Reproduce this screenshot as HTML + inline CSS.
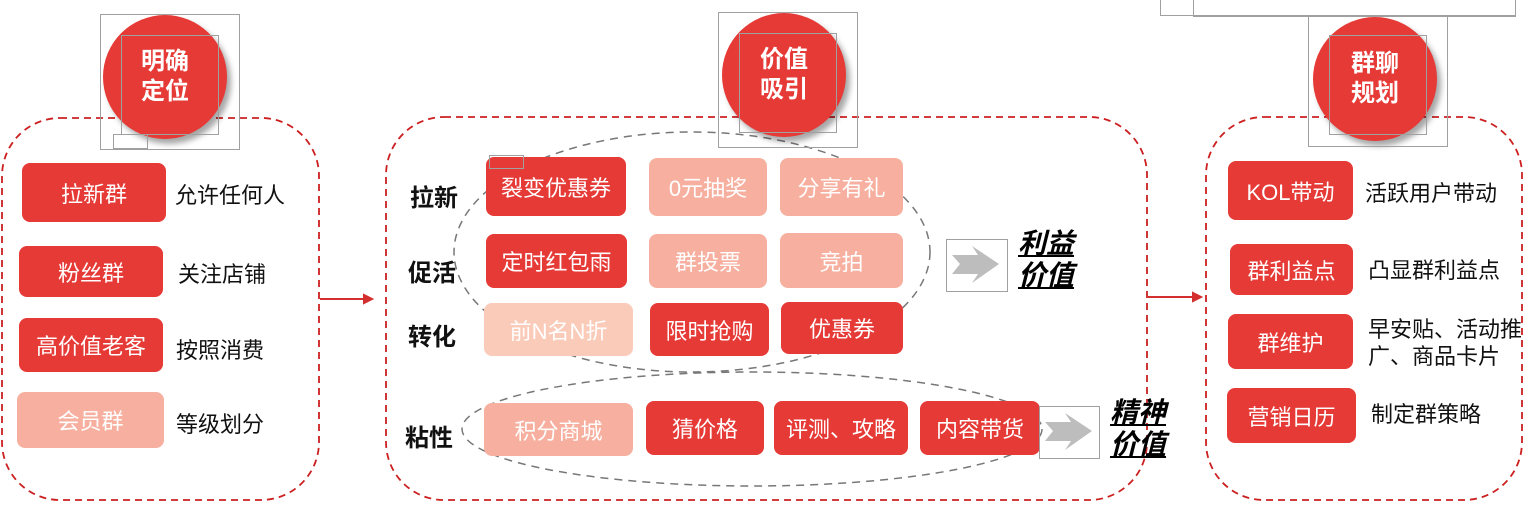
<!DOCTYPE html>
<html><head><meta charset="utf-8"><style>
body{margin:0;width:1530px;height:511px;background:#fff;position:relative;overflow:hidden;font-family:"Liberation Sans","Noto Sans CJK SC",sans-serif;}
.b{position:absolute;border-radius:8px;color:#fff;font-size:22px;display:flex;align-items:center;justify-content:center;background:#e63a37;}
.p{background:#f7b09f;}
.lp{background:#fbcbb9;}
.t{position:absolute;font-size:22px;color:#111;line-height:27px;}
.r{position:absolute;font-size:24px;font-weight:bold;color:#111;}
.c{position:absolute;width:124px;height:124px;border-radius:50%;background:#e63a37;color:#fff;font-weight:bold;font-size:24px;line-height:30px;display:flex;align-items:center;justify-content:center;text-align:center;box-shadow:4px 5px 6px rgba(0,0,0,.35);}
.g{position:absolute;border:1px solid #a0a0a0;}
.v{position:absolute;font-size:28px;font-weight:bold;font-style:italic;line-height:32px;color:#000;}
.v span{text-decoration:underline;}
</style></head><body>
<svg width="1530" height="511" style="position:absolute;left:0;top:0">
<g fill="none" stroke="#cc2020" stroke-width="1.8" stroke-dasharray="7,5">
<rect x="2" y="118" width="317" height="382" rx="58"/>
<rect x="386" y="117" width="761" height="383" rx="58"/>
<rect x="1206" y="117" width="316" height="383" rx="58"/>
</g>
<g fill="none" stroke="#777" stroke-width="1.5" stroke-dasharray="8,6">
<ellipse cx="692" cy="252" rx="238" ry="120"/>
<ellipse cx="752" cy="429" rx="290" ry="57"/>
</g>
<g stroke="#d32f2f" stroke-width="2" fill="#d32f2f">
<line x1="320" y1="299" x2="366" y2="299"/><polygon points="372,299 364,295 364,303"/>
<line x1="1148" y1="297" x2="1195" y2="297"/><polygon points="1201,297 1193,293 1193,301"/>
</g>
<g fill="#bdbdbd">
<polygon points="952,255 978,255 972,246 999,264 972,283 978,274 952,274 960,264"/>
<polygon points="1045,422 1071,422 1065,413 1092,431 1065,450 1071,441 1045,441 1053,431"/>
</g>
</svg>
<div class="g" style="left:1160px;top:-1px;width:354px;height:15px"></div>
<div class="g" style="left:1193px;top:-1px;width:321px;height:16px"></div>

<div class="c" style="left:103px;top:15px">明确<br>定位</div>
<div class="g" style="left:100px;top:14px;width:138px;height:134px"></div>
<div class="g" style="left:121px;top:35px;width:96px;height:98px"></div>
<div class="g" style="left:113px;top:134px;width:33px;height:13px"></div>
<div class="c" style="left:722px;top:13px">价值<br>吸引</div>
<div class="g" style="left:718px;top:12px;width:138px;height:134px"></div>
<div class="g" style="left:739px;top:33px;width:96px;height:98px"></div>
<div class="c" style="left:1313px;top:17px">群聊<br>规划</div>
<div class="g" style="left:1308px;top:16px;width:138px;height:129px"></div>
<div class="g" style="left:1329px;top:35px;width:96px;height:98px"></div>

<div class="b" style="left:22px;top:163px;width:144px;height:59px">拉新群</div>
<div class="b" style="left:19px;top:246px;width:144px;height:51px">粉丝群</div>
<div class="b" style="left:19px;top:318px;width:144px;height:54px">高价值老客</div>
<div class="b p" style="left:17px;top:392px;width:147px;height:56px">会员群</div>
<div class="t" style="left:175px;top:182px">允许任何人</div>
<div class="t" style="left:178px;top:261px">关注店铺</div>
<div class="t" style="left:176px;top:337px">按照消费</div>
<div class="t" style="left:176px;top:411px">等级划分</div>

<div class="r" style="left:410px;top:178px">拉新</div>
<div class="r" style="left:408px;top:253px">促活</div>
<div class="r" style="left:408px;top:317px">转化</div>
<div class="r" style="left:405px;top:418px">粘性</div>
<div class="b" style="left:486px;top:157px;width:140px;height:59px">裂变优惠券</div>
<div class="b p" style="left:649px;top:158px;width:118px;height:58px">0元抽奖</div>
<div class="b p" style="left:780px;top:158px;width:123px;height:58px">分享有礼</div>
<div class="b" style="left:486px;top:234px;width:141px;height:54px">定时红包雨</div>
<div class="b p" style="left:649px;top:234px;width:118px;height:54px">群投票</div>
<div class="b p" style="left:780px;top:233px;width:123px;height:55px">竞拍</div>
<div class="b lp" style="left:484px;top:303px;width:149px;height:53px">前N名N折</div>
<div class="b" style="left:650px;top:303px;width:119px;height:53px">限时抢购</div>
<div class="b" style="left:781px;top:302px;width:122px;height:52px">优惠券</div>
<div class="b p" style="left:484px;top:403px;width:149px;height:53px">积分商城</div>
<div class="b" style="left:646px;top:401px;width:118px;height:54px">猜价格</div>
<div class="b" style="left:774px;top:401px;width:134px;height:54px">评测、攻略</div>
<div class="b" style="left:920px;top:401px;width:120px;height:54px">内容带货</div>
<div class="g" style="left:489px;top:155px;width:33px;height:12px"></div>
<div class="g" style="left:946px;top:239px;width:60px;height:51px"></div>
<div class="g" style="left:1039px;top:406px;width:59px;height:51px"></div>
<div class="v" style="left:1018px;top:228px"><span>利益</span><br><span>价值</span></div>
<div class="v" style="left:1110px;top:397px"><span>精神</span><br><span>价值</span></div>

<div class="b" style="left:1228px;top:161px;width:125px;height:59px">KOL带动</div>
<div class="b" style="left:1230px;top:244px;width:123px;height:51px">群利益点</div>
<div class="b" style="left:1228px;top:314px;width:125px;height:55px">群维护</div>
<div class="b" style="left:1227px;top:388px;width:129px;height:55px">营销日历</div>
<div class="t" style="left:1365px;top:180px">活跃用户带动</div>
<div class="t" style="left:1368px;top:257px">凸显群利益点</div>
<div class="t" style="left:1368px;top:316px">早安贴、活动推<br>广、商品卡片</div>
<div class="t" style="left:1371px;top:401px">制定群策略</div>
</body></html>
